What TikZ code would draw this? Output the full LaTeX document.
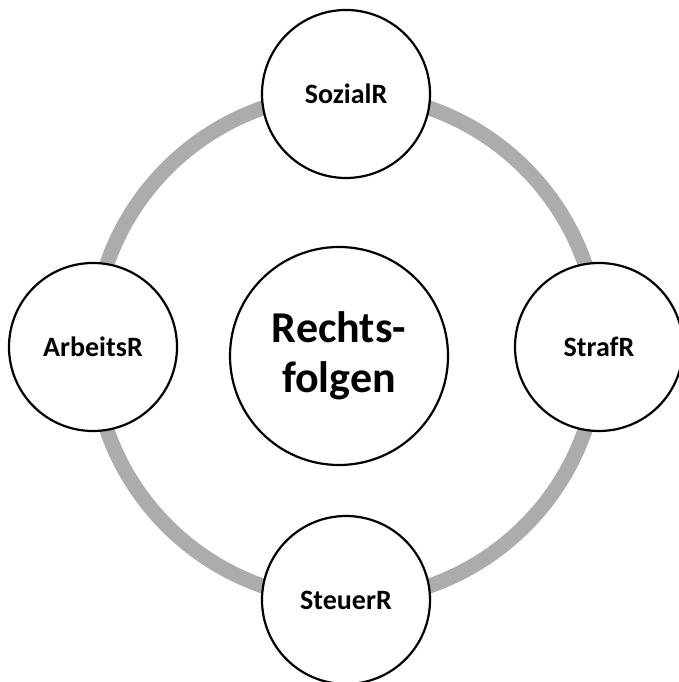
\documentclass[tikz,border=0pt]{standalone}
\usepackage{fontspec}
\setmainfont{Carlito}
\usetikzlibrary{calc}
\begin{document}
\begin{tikzpicture}[x=1pt,y=1pt]
            \useasboundingbox (0,0) rectangle (678,682);
            \coordinate (c) at (346,335);
            \draw[line width=15pt,gray!65] (c) circle (253);
            \node[draw,circle,line width=2.2pt,fill=white,minimum size=218pt,font=\bfseries\fontsize{44}{50}\selectfont,align=center] (mitte) at (339,326) {Rechts-\\folgen};
            \foreach \i/\angle/\label in {1/90/SozialR,2/0/StrafR,3/-90/SteuerR,4/180/ArbeitsR} {
                \node[draw,circle,line width=2.2pt,fill=white,minimum size=168pt,font=\bfseries\fontsize{28}{34}\selectfont] (n\i) at ($(c)+(\angle:253)$) {\label};
            }
        \end{tikzpicture}
\end{document}
